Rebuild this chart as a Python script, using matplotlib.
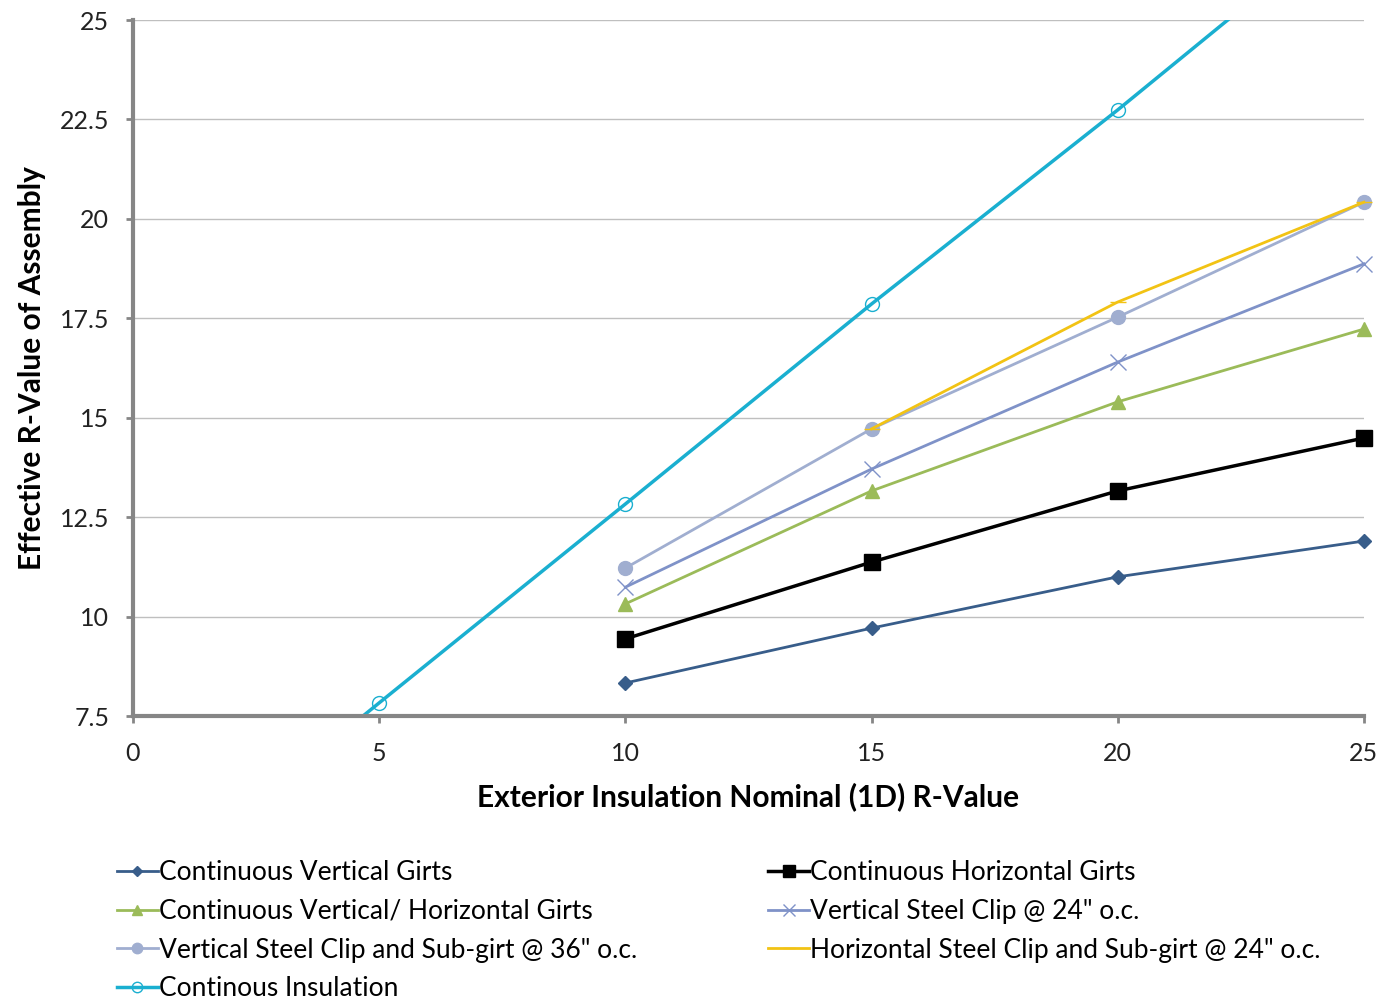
import numpy as np
import matplotlib.pyplot as plt

# Values
r_nominal = [10, 15, 20, 25]
cont_vertical = [8.33, 9.71, 11.0, 11.9]
cont_horizontal = [9.44, 11.37, 13.16, 14.49]
cont_vert_horiz = [10.32, 13.16, 15.4, 17.23]
vert_clip_24 = [10.74, 13.71, 16.4, 18.87]
vert_clip_subgirt_36 = [11.22, 14.72, 17.53, 20.42]

horiz_nominal = [15, 20, 25]
horiz_clip_subgirt_24 = [14.72, 17.91, 20.42]

ci_nominal = [0, 5, 10, 15, 20, 25]
continuous_ins = [2.8, 7.83, 12.83, 17.86, 22.74, 27.8]

plt.rcParams['font.family'] = ['Lato', 'DejaVu Sans']

fig = plt.figure(figsize=(13.82, 10.02), dpi=100)
ax = fig.add_axes([0.0962, 0.2854, 0.8907, 0.6946])

lines = {}
lines['cvg'], = ax.plot(r_nominal, cont_vertical, color='#385D8A', lw=2, marker='D', ms=7,
                        label='Continuous Vertical Girts', clip_on=False)
lines['chg'], = ax.plot(r_nominal, cont_horizontal, color='black', lw=2.5, marker='s', ms=11,
                        label='Continuous Horizontal Girts', clip_on=False)
lines['cvhg'], = ax.plot(r_nominal, cont_vert_horiz, color='#9BBB59', lw=2, marker='^', ms=10,
                         label='Continuous Vertical/ Horizontal Girts', clip_on=False)
lines['vsc24'], = ax.plot(r_nominal, vert_clip_24, color='#7F92C8', lw=2, marker='x', ms=11, mew=1,
                          label='Vertical Steel Clip @ 24" o.c.', clip_on=False)
lines['vsc36'], = ax.plot(r_nominal, vert_clip_subgirt_36, color='#A0AED0', lw=2, marker='o', ms=10,
                          label='Vertical Steel Clip and Sub-girt @ 36" o.c.', clip_on=False)
lines['hsc24'], = ax.plot(horiz_nominal, horiz_clip_subgirt_24, color='#F2C314', lw=2, marker='_', ms=12,
                          label='Horizontal Steel Clip and Sub-girt @ 24" o.c.', clip_on=False)
lines['ci'], = ax.plot(ci_nominal, continuous_ins, color='#1AAFD0', lw=2.5, marker='o', ms=10,
                       mfc='none', mew=1, label='Continous Insulation')

ax.set_xlim(0, 25)
ax.set_ylim(7.5, 25)
ax.set_xticks([0, 5, 10, 15, 20, 25])
ax.set_yticks([7.5, 10, 12.5, 15, 17.5, 20, 22.5, 25])
ax.set_yticklabels(['7.5', '10', '12.5', '15', '17.5', '20', '22.5', '25'])
ax.yaxis.grid(True, color='#BFBFBF', lw=1)
ax.set_axisbelow(True)

for s in ['top', 'right']:
    ax.spines[s].set_visible(False)
for s in ['left', 'bottom']:
    ax.spines[s].set_color('#868686')
    ax.spines[s].set_linewidth(3)
ax.tick_params(axis='both', colors='#868686', length=5, width=2, labelsize=18, labelcolor='#222222')
ax.tick_params(axis='y', pad=12)
ax.tick_params(axis='x', pad=14)

ax.set_xlabel('Exterior Insulation Nominal (1D) R-Value', fontsize=21.5, fontweight='bold', labelpad=12)
ax.set_ylabel('Effective R-Value of Assembly', fontsize=21.5, fontweight='bold', labelpad=10)

order = ['cvg', 'cvhg', 'vsc36', 'ci', 'chg', 'vsc24', 'hsc24']
handles = [lines[k] for k in order]
fig.legend(handles, [h.get_label() for h in handles], ncol=2, frameon=False,
           loc='upper left', bbox_to_anchor=(0.077, 0.152), fontsize=19,
           handlelength=1.55, handletextpad=0.05, labelspacing=0.52, columnspacing=4.95,
           markerscale=0.75, borderaxespad=0)

fig.savefig('out.png', dpi=100)
